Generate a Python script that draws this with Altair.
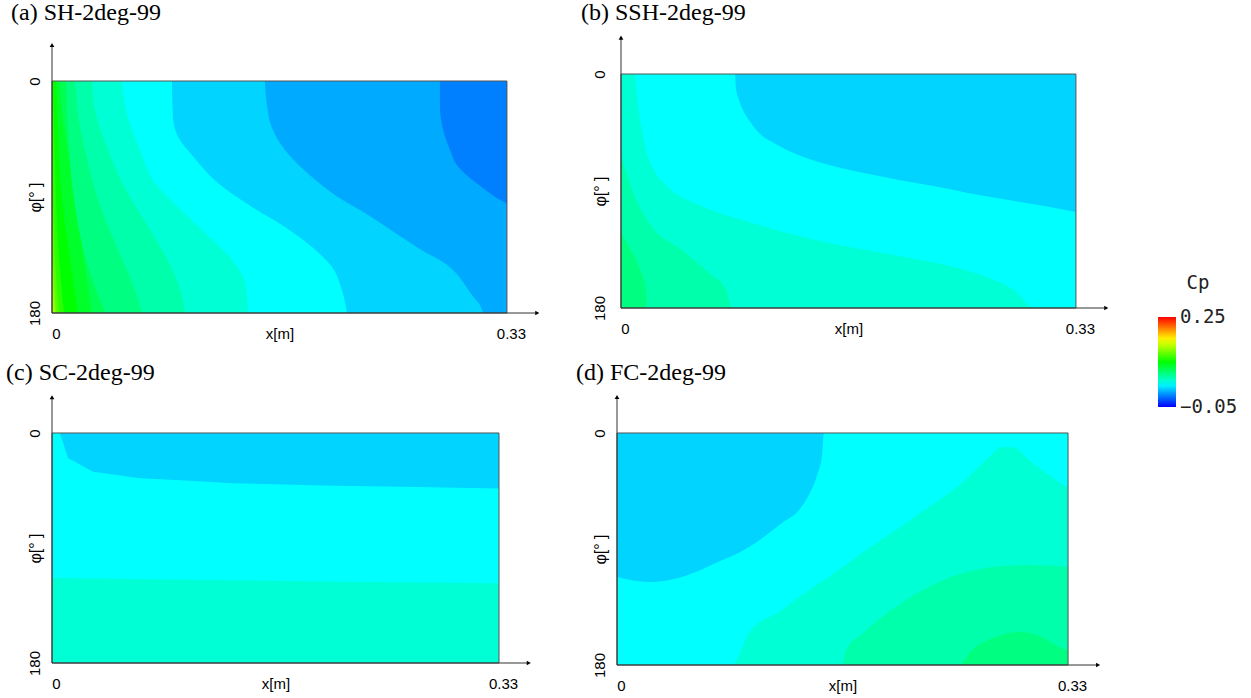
import altair as alt
import pandas as pd

# Pressure-coefficient colour scale (rainbow, blue -> red)
CP_STOPS = [-0.05, 0.025, 0.1, 0.175, 0.25]
CP_COLORS = ["#0000ff", "#00ffff", "#00ff00", "#ffff00", "#ff0000"]
# colour-bar labels sit just inside the bar ends (read -0.05 and 0.25)
CP_LABELS = [-0.0498, 0.2498]

X_END = 0.33          # x[m] at the tail of the body
PHI_END = 180         # φ[°] range 0..180
X_LABELS = [0, 0.33]
PHI_LABELS = [0, 180]

# ---------------------------------------------------------------------------
# (a) SH-2deg-99 : contour edges given as x[m] along φ[°];
#     the band to the right of each edge has the listed Cp
SH_BASE = 0.15
SH_LEVELS = [0.1375, 0.125, 0.1125, 0.1, 0.0875, 0.075, 0.0625,
             0.05, 0.0375, 0.025, 0.0125, 0.0, -0.0125]
SH_EDGES = [
    [(0, 0.0), (120, 0.0), (150, 0.0004), (180, 0.0015)],
    [(0, 0.0), (100, 0.0), (140, 0.0007), (180, 0.0029)],
    [(0, 0.0), (38, 0.0), (92.3, 0.0007), (138.9, 0.0022), (180, 0.0051)],
    [(0, 0.0007), (38, 0.0015), (92.3, 0.0029), (138.9, 0.0051), (180, 0.0087)],
    [(0, 0.0029), (38, 0.0044), (92.3, 0.0073), (138.9, 0.0131), (180, 0.0189)],
    [(0, 0.0058), (30.3, 0.0080), (53.5, 0.0116), (105.5, 0.0189), (144.3, 0.0239),
     (180, 0.0290)],
    [(0, 0.0102), (38, 0.0116), (92.3, 0.0160), (138.9, 0.0247), (180, 0.0384)],
    [(0, 0.0167), (26.4, 0.0189), (53.5, 0.0239), (92.3, 0.0334), (131.1, 0.0479),
     (162.2, 0.0602), (180, 0.0653)],
    [(0, 0.0290), (26.4, 0.0319), (53.5, 0.0406), (79.1, 0.0508), (105.5, 0.0653),
     (131.1, 0.0798), (156.7, 0.0914), (180, 0.0965)],
    [(0, 0.0508), (22.5, 0.0537), (41.9, 0.0595), (53.5, 0.0638), (79.1, 0.0747),
     (97.8, 0.0914), (117.9, 0.1110), (138.9, 0.1306), (156.7, 0.1400), (180, 0.1422)],
    [(0, 0.0870), (28.7, 0.0878), (45.8, 0.0928), (57.4, 0.1015), (79.1, 0.1204),
     (97.8, 0.1451), (113.3, 0.1690), (128.8, 0.1886), (144.3, 0.2031),
     (162.2, 0.2103), (180, 0.2140)],
    [(0, 0.1545), (18.6, 0.1559), (36.5, 0.1596), (53.5, 0.1690), (74.5, 0.1886),
     (90.0, 0.2074), (102.4, 0.2270), (120.3, 0.2524), (132.7, 0.2705),
     (140.4, 0.2836), (148.2, 0.2923), (156.0, 0.2981), (166.0, 0.3046),
     (173.8, 0.3104), (180, 0.3126)],
    [(0, 0.2814), (19.4, 0.2814), (34.1, 0.2829), (53.5, 0.2887), (65.2, 0.2937),
     (75.3, 0.3032), (83.0, 0.3126), (90.0, 0.3213), (96.2, 0.33), (180, 0.33)],
]

# (b) SSH-2deg-99 : contour edges given as φ[°] along x[m];
#     the band below each edge has the listed Cp
SSH_BASE = 0.0125
SSH_LEVELS = [0.025, 0.0375, 0.05, 0.0625]
SSH_EDGES = [
    [(0, 0), (0.0827, 0), (0.0834, 10.8), (0.0856, 20), (0.0892, 29.2), (0.0943, 37.7),
     (0.1001, 45.4), (0.111, 53.1), (0.1219, 59.2), (0.1364, 65.4), (0.1509, 70),
     (0.1726, 75.4), (0.2016, 81.5), (0.2306, 86.9), (0.2597, 93.1), (0.2814, 96.9),
     (0.3032, 100.8), (0.33, 106.2)],
    [(0, 0), (0.0099, 0), (0.0116, 17.7), (0.0152, 43.1), (0.0181, 58.5), (0.0239, 73.8),
     (0.0348, 87.7), (0.0566, 100.8), (0.0928, 113.8), (0.1291, 124.6), (0.1654, 133.1),
     (0.2016, 140), (0.2379, 147.7), (0.2669, 156.9), (0.285, 166.2), (0.2995, 180),
     (0.33, 180)],
    [(0, 62), (0.0044, 78), (0.008, 89.2), (0.0203, 114.6), (0.0442, 135.4),
     (0.0638, 153.1), (0.0762, 166.2), (0.0805, 180), (0.33, 180)],
    [(0, 122), (0.0058, 133), (0.0131, 148.5), (0.0181, 166), (0.0189, 180), (0.33, 180)],
]

# (c) SC-2deg-99
SC_BASE = 0.0125
SC_LEVELS = [0.025, 0.0375]
SC_EDGES = [
    [(0, 0), (0.0059, 0), (0.0118, 19.6), (0.0303, 30.3), (0.065, 35.5), (0.1018, 37.3),
     (0.1336, 39.4), (0.2, 41.0), (0.27, 42.3), (0.33, 43.5)],
    [(0, 113.5), (0.1, 114.8), (0.2, 116.2), (0.33, 117.5)],
]

# (d) FC-2deg-99
FC_BASE = 0.0125
FC_LEVELS = [0.025, 0.0375, 0.05, 0.0625]
FC_EDGES = [
    [(0, 111.7), (0.0234, 115.6), (0.0476, 111.7), (0.0724, 100.9), (0.0966, 88.5),
     (0.1207, 69.8), (0.1332, 59.7), (0.1405, 48.0), (0.1463, 33.0), (0.1500, 17.0),
     (0.1514, 0), (0.33, 0)],
    [(0, 180), (0.0841, 180), (0.0966, 155.2), (0.1207, 137.3), (0.1332, 127.2),
     (0.1551, 111.7), (0.1793, 93.1), (0.2041, 75.3), (0.2283, 57.4), (0.2524, 38.8),
     (0.2722, 18.6), (0.2817, 10.9), (0.289, 10.9), (0.3015, 20.9), (0.3139, 31.0),
     (0.33, 42.7)],
    [(0, 180), (0.1646, 180), (0.1676, 168.4), (0.1798, 155.4), (0.2042, 134.8),
     (0.2283, 119.3), (0.2527, 108.9), (0.277, 103.7), (0.3015, 102.4), (0.33, 103.7)],
    [(0, 180), (0.2502, 180), (0.2598, 168.4), (0.2773, 158.3), (0.2941, 154.4),
     (0.311, 158.3), (0.3234, 166.0), (0.33, 168.4)],
]

# ---------------------------------------------------------------------------
# Layout of the four panels
X_TIP = 0.352      # end of the x-axis arrow
PHI_TIP = -28      # end of the φ-axis arrow

PANELS = [
    dict(title="(a) SH-2deg-99", base=SH_BASE, levels=SH_LEVELS, edges=SH_EDGES,
         along="phi", curve="monotone", xdom=[0, 0.3547], ydom=[-35.7, 180],
         w=489, h=278, tdx=-41, tdy=0),
    dict(title="(b) SSH-2deg-99", base=SSH_BASE, levels=SSH_LEVELS, edges=SSH_EDGES,
         along="x", curve="monotone", xdom=[-0.0029, 0.3547], ydom=[-30, 180],
         w=493, h=273, tdx=-36, tdy=0),
    dict(title="(c) SC-2deg-99", base=SC_BASE, levels=SC_LEVELS, edges=SC_EDGES,
         along="x", curve="linear", xdom=[0, 0.3610], ydom=[-33.65, 180],
         w=489, h=273, tdx=-46, tdy=5),
    dict(title="(d) FC-2deg-99", base=FC_BASE, levels=FC_LEVELS, edges=FC_EDGES,
         along="x", curve="monotone", xdom=[0, 0.3607], ydom=[-33.36, 180],
         w=493, h=275, tdx=-41, tdy=5),
]

AXIS_FONT = "Liberation Sans"
LEGEND_FONT = "DejaVu Sans Mono"

cp_legend = alt.Legend(
    title="Cp", values=CP_LABELS, format=".2f", orient="none",
    legendX=1106, legendY=239, direction="vertical",
    gradientLength=90, gradientThickness=18, gradientStrokeWidth=0,
    labelFont=LEGEND_FONT, labelFontSize=19, labelColor="#222",
    labelOffset=4, labelExpr="datum.value > 0 ? '\u00a0' + datum.label : datum.label",
    labelOverlap=False,
    titleFont=LEGEND_FONT, titleFontSize=19, titleFontWeight="normal",
    titleColor="#222", titleAnchor="middle", titlePadding=24,
)
cp_scale = alt.Scale(domain=CP_STOPS, range=CP_COLORS, interpolate="rgb")
color = alt.Color("cp:Q", scale=cp_scale, legend=cp_legend)


def panel(p):
    xs = alt.Scale(domain=p["xdom"], nice=False, zero=False)
    ys = alt.Scale(domain=p["ydom"], nice=False, zero=False, reverse=True)
    w, h = p["w"], p["h"]
    x_mid_px = (X_END / 2 - p["xdom"][0]) / (p["xdom"][1] - p["xdom"][0]) * w
    y_mid_px = (PHI_END / 2 - p["ydom"][0]) / (p["ydom"][1] - p["ydom"][0]) * h

    x_axis = alt.Axis(
        values=X_LABELS, format=".2~f", title="x[m]", domain=False, ticks=False,
        tickSize=0, grid=False, labelFlush=False, labelPadding=20,
        labelBaseline="middle", labelAlign="center", labelOffset=4,
        labelFont=AXIS_FONT, labelFontSize=15, labelColor="black",
        titleFont=AXIS_FONT, titleFontSize=15, titleFontWeight="normal",
        titleColor="black", titleX=x_mid_px, titleY=20, titleBaseline="middle",
        titleAlign="center",
    )
    y_axis = alt.Axis(
        values=PHI_LABELS, format="d", title="φ[°\u00a0]", domain=False, ticks=False,
        tickSize=0, grid=False, labelFlush=False, labelAngle=270, labelAlign="center",
        labelBaseline="middle", labelPadding=18,
        labelFont=AXIS_FONT, labelFontSize=15, labelColor="black",
        titleFont=AXIS_FONT, titleFontSize=16, titleFontWeight="normal",
        titleColor="black", titleAngle=270, titleX=-17, titleY=y_mid_px,
        titleBaseline="middle", titleAlign="center",
    )

    def X(field):
        return alt.X(field, type="quantitative", scale=xs, axis=x_axis, stack=None)

    def Y(field):
        return alt.Y(field, type="quantitative", scale=ys, axis=y_axis, stack=None)

    body = pd.DataFrame({"x0": [0], "x1": [X_END], "p0": [0], "p1": [PHI_END],
                         "cp": [p["base"]]})
    layers = [
        alt.Chart(body).mark_rect().encode(
            x=X("x0"), x2="x1", y=Y("p0"), y2="p1", color=color)
    ]
    for level, edge in zip(p["levels"], p["edges"]):
        if p["along"] == "phi":
            df = pd.DataFrame(edge, columns=["phi", "x"])
            df["cp"] = level
            layers.append(
                alt.Chart(df).mark_area(orient="horizontal", interpolate=p["curve"]).encode(
                    y=Y("phi"), x=X("x"), x2=alt.datum(X_END), color=color)
            )
        else:
            df = pd.DataFrame(edge, columns=["x", "phi"])
            df["cp"] = level
            layers.append(
                alt.Chart(df).mark_area(orient="vertical", interpolate=p["curve"]).encode(
                    x=X("x"), y=Y("phi"), y2=alt.datum(PHI_END), color=color)
            )

    frame = alt.Chart(body).mark_rect(filled=False, stroke="#555555", strokeWidth=1).encode(
        x=X("x0"), x2="x1", y=Y("p0"), y2="p1")
    axes_df = pd.DataFrame({"x0": [0, 0], "x1": [0, X_TIP],
                            "p0": [PHI_END, PHI_END], "p1": [PHI_TIP, PHI_END]})
    axis_lines = alt.Chart(axes_df).mark_rule(color="#333333", strokeWidth=1).encode(
        x=X("x0"), x2="x1", y=Y("p0"), y2="p1")
    tips = pd.DataFrame({"x": [0, X_TIP], "phi": [PHI_TIP, PHI_END],
                         "shape": ["triangle-up", "triangle-right"]})
    arrows = alt.Chart(tips).mark_point(filled=True, color="black", size=22, opacity=1).encode(
        x=X("x"), y=Y("phi"),
        shape=alt.Shape("shape:N", scale=None, legend=None),
    )
    layers += [frame, axis_lines, arrows]

    return alt.layer(*layers).properties(
        width=w, height=h,
        title=alt.TitleParams(
            p["title"], anchor="start", frame="group", font="Liberation Serif",
            fontSize=24, fontWeight="normal", color="black", dx=p["tdx"], dy=p["tdy"],
            baseline="top", offset=10,
        ),
    )


chart = alt.concat(
    *[panel(p) for p in PANELS],
    columns=2, spacing={"row": 77, "column": 72}, bounds="flush", align="all",
).properties(
    padding={"left": 6, "top": 1, "right": 2, "bottom": 2},
    background="white",
).configure_view(strokeWidth=0)

chart.save("out.html", embed_options={"renderer": "svg", "actions": False})
